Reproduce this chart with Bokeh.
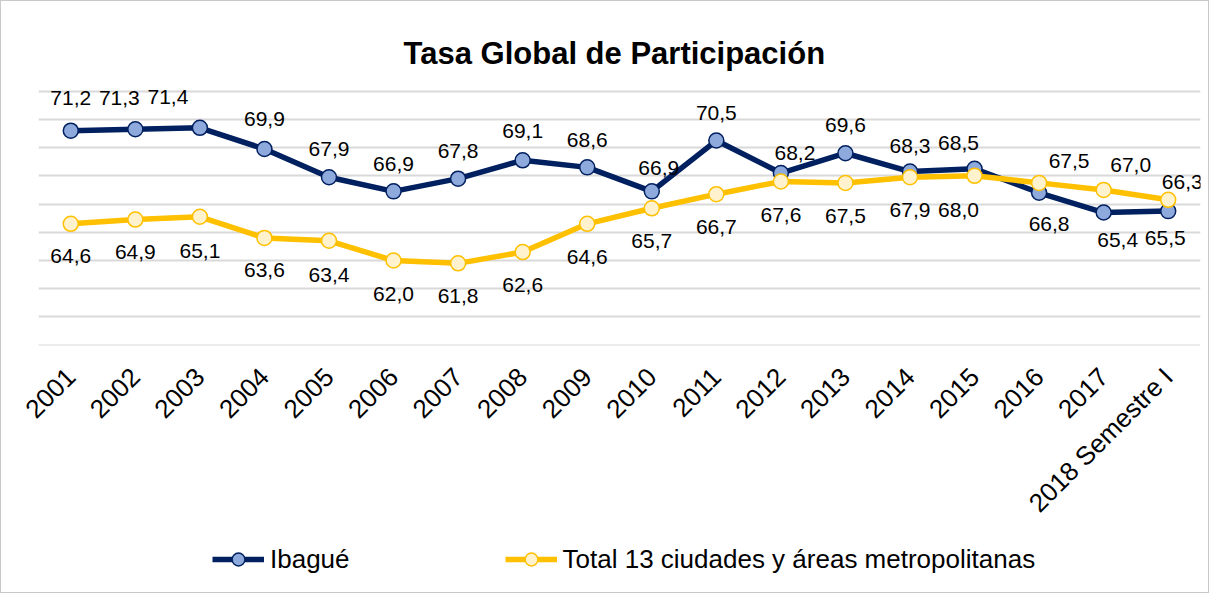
import math
from bokeh.plotting import figure
from bokeh.layouts import column
from bokeh.models import (ColumnDataSource, FactorRange, Range1d, FixedTicker,
                          Legend, LegendItem, Label)
from bokeh.core.properties import value
from bokeh.embed import file_html
from bokeh.resources import INLINE

# ---------------- data ----------------
years = ["2001", "2002", "2003", "2004", "2005", "2006", "2007", "2008", "2009",
         "2010", "2011", "2012", "2013", "2014", "2015", "2016", "2017",
         "2018 Semestre I"]
ibague = [71.2, 71.3, 71.4, 69.9, 67.9, 66.9, 67.8, 69.1, 68.6, 66.9, 70.5,
          68.2, 69.6, 68.3, 68.5, 66.8, 65.4, 65.5]
total13 = [64.6, 64.9, 65.1, 63.6, 63.4, 62.0, 61.8, 62.6, 64.6, 65.7, 66.7,
           67.6, 67.5, 67.9, 68.0, 67.5, 67.0, 66.3]
series_names = ["Ibagué", "Total 13 ciudades y áreas metropolitanas"]
title_text = "Tasa Global de Participación"
y_ticks = [56, 58, 60, 62, 64, 66, 68, 70, 72, 74]

# label placement (screen px, positive y = down)
ib_dx = [0, -16, -32, 0, 0, 0, 0, 0, 0, 7, 0, 14, 0, 0, -16, 10, 14, -3]
ib_dy = [-33, -31, -31, -30, -28, -27, -28, -29, -27, -23, -28, -20, -28, -26, -26, 31, 27, 27]
tt_dx = [0, 0, 0, 0, 0, 0, 0, 0, 0, 0, 0, 0, 0, 0, -16, 30, 27, 14]
tt_dy = [32, 32, 34, 32, 34, 33, 33, 33, 33, 33, 33, 34, 33, 33, 34, -22, -25, -18]

NAVY = "#002060"
NAVY_FILL = "#8EA9DB"
GOLD = "#FFC000"
GOLD_FILL = "#FFF2CC"
FONT = "Liberation Sans"

def fmt(v):
    return f"{v:.1f}".replace(".", ",")

src_ib = ColumnDataSource(dict(x=years, y=ibague, lab=[fmt(v) for v in ibague],
                               dx=ib_dx, dy=ib_dy))
src_tt = ColumnDataSource(dict(x=years, y=total13, lab=[fmt(v) for v in total13],
                               dx=tt_dx, dy=tt_dy))

W = 1207
H_MAIN, H_LEG = 530, 61
Y_LO = y_ticks[0] - 0.02
Y_HI = 80.35          # frame reaches the canvas top so the title sits inside it

# ---------------- main chart ----------------
p = figure(width=W, height=H_MAIN, x_range=FactorRange(*years),
           y_range=Range1d(Y_LO, Y_HI), title=None,
           output_backend="svg", toolbar_location=None,
           min_border_left=37, min_border_right=8, min_border_top=0,
           min_border_bottom=178)
p.outline_line_color = None
p.background_fill_color = "white"
p.border_fill_color = "white"

p.xgrid.visible = False
p.ygrid.ticker = FixedTicker(ticks=y_ticks)
p.ygrid.grid_line_color = "#D9D9D9"
p.ygrid.grid_line_width = 2
p.yaxis.visible = False

ax = p.xaxis[0]
ax.axis_line_color = None
ax.major_tick_line_color = None
ax.minor_tick_line_color = None
ax.major_label_orientation = math.pi / 4
ax.major_label_text_font = FONT
ax.major_label_text_font_size = "26px"
ax.major_label_text_color = "black"
ax.major_label_standoff = 21

l1 = p.line("x", "y", source=src_ib, line_color=NAVY, line_width=5.5)
s1 = p.scatter("x", "y", source=src_ib, size=15, fill_color=NAVY_FILL,
               line_color=NAVY, line_width=1.5)
l2 = p.line("x", "y", source=src_tt, line_color=GOLD, line_width=5.5)
s2 = p.scatter("x", "y", source=src_tt, size=15, fill_color=GOLD_FILL,
               line_color=GOLD, line_width=1.5)

for src in (src_ib, src_tt):
    p.text("x", "y", text="lab", source=src, x_offset="dx", y_offset="dy",
           text_align="center", text_baseline="middle",
           text_font=value(FONT), text_font_size="21px", text_color="black")

p.add_layout(Label(x=8.92, y=76.68, text=title_text, text_align="center",
                   text_baseline="alphabetic", text_font=FONT,
                   text_font_size="31px", text_font_style="bold",
                   text_color="black"))

# ---------------- legend strip ----------------
q = figure(width=W, height=H_LEG, x_range=Range1d(0, 1), y_range=Range1d(0, 1),
           title=None, output_backend="svg", toolbar_location=None,
           min_border=0, x_axis_location=None, y_axis_location=None)
q.outline_line_color = None
q.grid.visible = False
q.background_fill_color = "white"
q.border_fill_color = "white"
# legend-only renderers: they hold a point outside the visible range
off = dict(x=[-5, -4], y=[-5, -5])
k1 = q.line(x=off["x"], y=off["y"], line_color=NAVY, line_width=5.5)
k1s = q.scatter(x=off["x"], y=off["y"], size=13, fill_color=NAVY_FILL,
                line_color=NAVY, line_width=1.5)
k2 = q.line(x=off["x"], y=off["y"], line_color=GOLD, line_width=5.5)
k2s = q.scatter(x=off["x"], y=off["y"], size=13, fill_color=GOLD_FILL,
                line_color=GOLD, line_width=1.5)
legend = Legend(items=[LegendItem(label=series_names[0], renderers=[k1, k1s]),
                       LegendItem(label=series_names[1], renderers=[k2, k2s])],
                orientation="horizontal", location=(174, 17),
                glyph_width=52, glyph_height=32, label_standoff=6,
                spacing=155, padding=0, margin=0,
                border_line_color=None, background_fill_alpha=0,
                label_text_font=FONT, label_text_font_size="26px",
                label_text_color="black")
q.add_layout(legend)

layout = column(p, q, spacing=0, styles={"border": "1px solid #C9C9C9"})

open("out.html", "w").write(file_html(layout, INLINE))
